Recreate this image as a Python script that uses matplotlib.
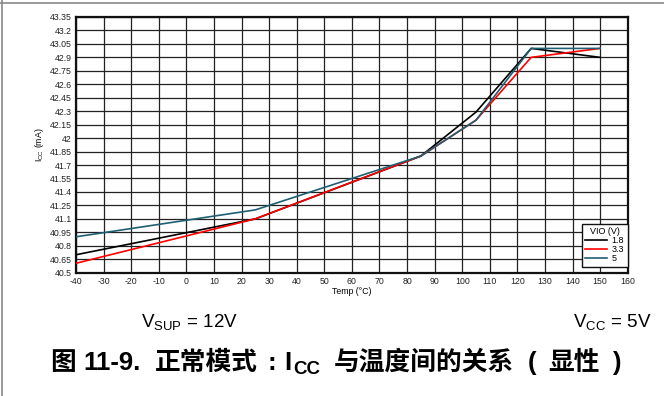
import matplotlib
matplotlib.use("Agg")
import matplotlib.pyplot as plt
from matplotlib.lines import Line2D

plt.rcParams['font.family'] = ['Liberation Sans', 'Noto Sans CJK SC', 'DejaVu Sans']
plt.rcParams['axes.unicode_minus'] = False

temps = [-40, 25, 85, 105, 125, 150]
icc_18 = [40.70, 41.10, 41.80, 42.29, 43.00, 42.90]
icc_33 = [40.605, 41.10, 41.80, 42.20, 42.90, 43.00]
icc_5 = [40.90, 41.20, 41.80, 42.20, 43.00, 43.00]
series_labels = ['1.8', '3.3', '5']
series_colors = ['#000000', '#ff0000', '#1f5f73']

xticks = list(range(-40, 161, 10))
yticks = [40.5, 40.65, 40.8, 40.95, 41.1, 41.25, 41.4, 41.55, 41.7, 41.85,
          42.0, 42.15, 42.3, 42.45, 42.6, 42.75, 42.9, 43.05, 43.2, 43.35]
ytick_labels = ['40.5', '40.65', '40.8', '40.95', '41.1', '41.25', '41.4', '41.55',
                '41.7', '41.85', '42', '42.15', '42.3', '42.45', '42.6', '42.75',
                '42.9', '43.05', '43.2', '43.35']

caption_parts = ['图', '11-9.', '正常模式', ':', 'I', 'CC', '与温度间的关系', '(', '显性', ')']

W, H = 664, 396
fig = plt.figure(figsize=(W / 100, H / 100), dpi=100)
ax = fig.add_axes([76 / W, 1 - 272.7 / H, (627.7 - 76) / W, (272.7 - 17) / H])

for vals, lab, col in zip([icc_18, icc_33, icc_5], series_labels, series_colors):
    ax.plot(temps, vals, color=col, lw=1.2, label=lab, zorder=3)

ax.set_xlim(-40, 160)
ax.set_ylim(40.5, 43.35)
ax.set_xticks(xticks)
ax.set_yticks(yticks)
ax.set_yticklabels(ytick_labels)
ax.grid(True, color='#222222', lw=0.9)
ax.tick_params(labelsize=6.3, length=0, pad=3, colors='#222222')
for s in ax.spines.values():
    s.set_linewidth(1.6)
    s.set_color('#111111')
ax.set_xlabel('Temp (°C)', fontsize=6.3, labelpad=1)
ax.set_ylabel('I$_{\\mathregular{CC}}$ (mA)', fontsize=6.3, labelpad=3)

leg = ax.legend(title='VIO (V)', loc='lower right', bbox_to_anchor=(1.0, 0.023),
                fontsize=6.5, title_fontsize=6.5, frameon=True, fancybox=False,
                edgecolor='#111111', framealpha=1, handlelength=2.4,
                labelspacing=0.0, borderpad=0.4, handletextpad=0.5,
                borderaxespad=0)
leg.get_frame().set_linewidth(1.0)

fig.text(141 / W, 1 - 323 / H, 'V$_{\\mathregular{SUP}}$ = 12V', fontsize=13.5,
         ha='left', va='center')
fig.text(651 / W, 1 - 323 / H, 'V$_{\\mathregular{CC}}$ = 5V', fontsize=13.5,
         ha='right', va='center')

# caption built from pieces so that CJK fallback works with a subscript
cap_fam = ['Liberation Sans', 'Noto Sans CJK SC']
y_base = 1 - 370 / H
sizes = [18.5, 18.5, 18.5, 18.5, 18.5, 13.5, 18.5, 18.5, 18.5, 18.5]
offsets = [0, 0, 0, 0, 0, -3.5, 0, 0, 0, 0]
gaps = [50, 8, 14, 9, 9, 1, 14, 14, 12, 12]
texts = []
for part, sz, off in zip(caption_parts, sizes, offsets):
    t = fig.text(0, y_base + off / H, part, fontsize=sz, fontweight='bold',
                 ha='left', va='baseline', family=cap_fam)
    texts.append(t)
fig.canvas.draw()
r = fig.canvas.get_renderer()
x = 0
for t, g in zip(texts, gaps):
    x += g
    t.set_x(x / W)
    x += t.get_window_extent(r).width

fig.add_artist(Line2D([0, 1], [1 - 2.5 / H, 1 - 2.5 / H], color='#888888', lw=1.2))
fig.add_artist(Line2D([1.5 / W, 1.5 / W], [0, 1], color='#888888', lw=1.2))

fig.savefig('out.png', dpi=100)
